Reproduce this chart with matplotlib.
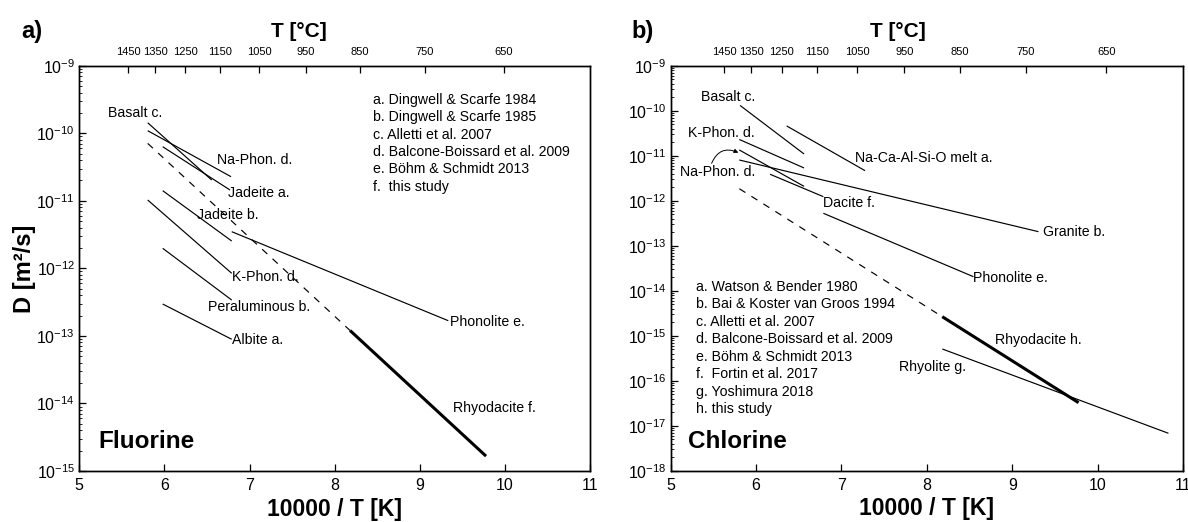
import numpy as np
import matplotlib
matplotlib.use("Agg")
import matplotlib.pyplot as plt
from matplotlib.ticker import FixedLocator, LogLocator, NullFormatter, FuncFormatter

plt.rcParams['font.family'] = ['Liberation Sans', 'DejaVu Sans']
plt.rcParams['mathtext.fontset'] = 'custom'
plt.rcParams['mathtext.rm'] = 'Liberation Sans'
plt.rcParams['mathtext.it'] = 'Liberation Sans:italic'
plt.rcParams['mathtext.bf'] = 'Liberation Sans:bold'

# ---------------- Fluorine: literature Arrhenius segments (x = 10000/T) ----------------
f_names = ["Basalt c.", "Na-Phon. d.", "Jadeite a.", "Jadeite b.", "K-Phon. d.",
           "Phonolite e.", "Peraluminous b.", "Albite a."]
f_x0 = [5.805, 5.805, 5.981, 5.981, 5.805, 6.791, 5.981, 5.981]
f_x1 = [6.556, 6.783, 6.771, 6.791, 6.791, 9.333, 6.791, 6.791]
f_logd0 = [-9.844, -9.962, -10.199, -10.850, -10.988, -11.457, -11.703, -12.528]
f_logd1 = [-10.692, -10.643, -10.840, -11.595, -12.073, -12.775, -12.469, -13.050]

# this study (Rhyodacite f.): extrapolated part, measured part
f_rhyo_x = [5.805, 8.180, 9.776]
f_rhyo_logd = [-10.150, -12.920, -14.780]

f_refs = ["a. Dingwell & Scarfe 1984", "b. Dingwell & Scarfe 1985",
          "c. Alletti et al. 2007", "d. Balcone-Boissard et al. 2009",
          "e. Böhm & Schmidt 2013", "f.  this study"]

# ---------------- Chlorine ----------------
c_names = ["Basalt c.", "K-Phon. d.", "Na-Ca-Al-Si-O melt a.", "Na-Phon. d.",
           "Dacite f.", "Granite b.", "Phonolite e.", "Rhyolite g."]
c_x0 = [5.813, 5.804, 6.359, 5.804, 6.164, 5.804, 6.788, 8.181]
c_x1 = [6.562, 6.562, 7.276, 6.562, 6.788, 9.306, 8.545, 10.828]
c_logd0 = [-9.884, -10.640, -10.340, -10.873, -11.413, -11.096, -12.280, -15.296]
c_logd1 = [-10.962, -11.273, -11.333, -11.682, -11.911, -12.689, -13.689, -17.169]

c_rhyo_x = [5.805, 8.180, 9.776]
c_rhyo_logd = [-11.735, -14.578, -16.489]

c_refs = ["a. Watson & Bender 1980", "b. Bai & Koster van Groos 1994",
          "c. Alletti et al. 2007", "d. Balcone-Boissard et al. 2009",
          "e. Böhm & Schmidt 2013", "f.  Fortin et al. 2017",
          "g. Yoshimura 2018", "h. this study"]

# top axis temperatures in °C
celsius_ticks = [1450, 1350, 1250, 1150, 1050, 950, 850, 750, 650]

# label anchor points (left edge, vertical centre) in data units
f_label_pos = {"Basalt c.": (5.339, -9.700), "Na-Phon. d.": (6.615, -10.396),
               "Jadeite a.": (6.748, -10.889), "Jadeite b.": (6.384, -11.210),
               "K-Phon. d.": (6.791, -12.124), "Phonolite e.": (9.353, -12.790),
               "Peraluminous b.": (6.513, -12.568), "Albite a.": (6.791, -13.061)}
f_rhyo_label = ("Rhyodacite f.", (9.388, -14.072))

c_label_pos = {"Basalt c.": (5.352, -9.689), "K-Phon. d.": (5.204, -10.502),
               "Na-Ca-Al-Si-O melt a.": (7.159, -11.058), "Na-Phon. d.": (5.110, -11.356),
               "Dacite f.": (6.788, -12.058), "Granite b.": (9.364, -12.689),
               "Phonolite e.": (8.545, -13.718), "Rhyolite g.": (7.674, -15.702)}
c_rhyo_label = ("Rhyodacite h.", (8.799, -15.096))

LBL = 10.2
THIN = 0.85
THICK = 2.2


def log_fmt(v, pos):
    e = int(round(np.log10(v)))
    return r"$10^{%d}$" % e


def style_axes(ax, ymin_exp, top_scale, top_offset):
    ax.set_yscale("log")
    ax.set_xlim(5, 11)
    ax.set_ylim(10.0 ** ymin_exp, 1e-9)
    ax.xaxis.set_major_locator(FixedLocator(np.arange(5, 12, 1)))
    ax.yaxis.set_major_locator(LogLocator(base=10, numticks=20))
    ax.yaxis.set_minor_locator(LogLocator(base=10, subs=np.arange(2, 10), numticks=20))
    ax.yaxis.set_major_formatter(FuncFormatter(log_fmt))
    ax.yaxis.set_minor_formatter(NullFormatter())
    ax.tick_params(axis="x", which="major", direction="in", length=5, width=0.9,
                   labelsize=11.5, pad=5)
    ax.tick_params(axis="y", which="major", direction="in", length=5, width=0.9,
                   labelsize=11.5, pad=3, right=False)
    ax.tick_params(axis="y", which="minor", direction="in", length=2.5, width=0.6, right=False)
    for s in ax.spines.values():
        s.set_linewidth(1.0)

    # Celsius scale on top
    top = ax.twiny()
    top.set_xlim(ax.get_xlim())
    tpos = [top_scale * 10000.0 / (t + 273.15) + top_offset for t in celsius_ticks]
    top.xaxis.set_major_locator(FixedLocator(tpos))
    top.set_xticklabels([str(t) for t in celsius_ticks])
    top.tick_params(axis="x", direction="in", length=5, width=0.9, labelsize=8, pad=6)
    top.xaxis.set_minor_locator(FixedLocator([]))
    for s in top.spines.values():
        s.set_linewidth(1.0)
    return top


def draw_segments(ax, x0, x1, d0, d1):
    for a, b, c, d in zip(x0, x1, d0, d1):
        ax.plot([a, b], [10.0 ** c, 10.0 ** d], color="black", lw=THIN, solid_capstyle="butt")


def draw_study(ax, xs, logd):
    d = [10.0 ** v for v in logd]
    ax.plot(xs[:2], d[:2], color="black", lw=THIN, ls=(0, (6, 6)))
    ax.plot(xs[1:], d[1:], color="black", lw=THICK, solid_capstyle="butt")


fig = plt.figure(figsize=(11.88, 5.22), dpi=100)
axL = fig.add_axes([0.0666, 0.0977, 0.4303, 0.7764])
axR = fig.add_axes([0.5645, 0.0983, 0.4314, 0.7759])

# ---------- panel a) Fluorine ----------
style_axes(axL, -15, 0.877, 0.488)
draw_segments(axL, f_x0, f_x1, f_logd0, f_logd1)
draw_study(axL, f_rhyo_x, f_rhyo_logd)
for name in f_names:
    x, ld = f_label_pos[name]
    axL.text(x, 10.0 ** ld, name, fontsize=LBL, ha="left", va="center")
axL.text(f_rhyo_label[1][0], 10.0 ** f_rhyo_label[1][1], f_rhyo_label[0],
         fontsize=LBL, ha="left", va="center")
for i, r in enumerate(f_refs):
    axL.text(0.574, 0.915 - i * 0.0427, r, transform=axL.transAxes,
             fontsize=LBL, ha="left", va="center")
axL.text(0.037, 0.072, "Fluorine", transform=axL.transAxes, fontsize=17.5,
         fontweight="bold", ha="left", va="center")
axL.text(0.5, -0.094, "10000 / T [K]", transform=axL.transAxes, fontsize=16.5,
         fontweight="bold", ha="center", va="center")
axL.text(-0.106, 0.5, "D [m²/s]", transform=axL.transAxes, fontsize=17,
         fontweight="bold", ha="center", va="center", rotation=90)
axL.text(0.429, 1.084, "T [°C]", transform=axL.transAxes, fontsize=15,
         fontweight="bold", ha="center", va="center")
axL.text(-0.093, 1.084, "a)", transform=axL.transAxes, fontsize=17,
         fontweight="bold", ha="center", va="center")

# ---------- panel b) Chlorine ----------
style_axes(axR, -18, 0.890, 0.460)
draw_segments(axR, c_x0, c_x1, c_logd0, c_logd1)
draw_study(axR, c_rhyo_x, c_rhyo_logd)
for name in c_names:
    x, ld = c_label_pos[name]
    axR.text(x, 10.0 ** ld, name, fontsize=LBL, ha="left", va="center")
axR.text(c_rhyo_label[1][0], 10.0 ** c_rhyo_label[1][1], c_rhyo_label[0],
         fontsize=LBL, ha="left", va="center")
axR.annotate("", xy=(5.793, 10.0 ** -10.933), xytext=(5.48, 10.0 ** -11.17),
             arrowprops=dict(arrowstyle="-|>", color="black", lw=0.7,
                             mutation_scale=6, shrinkA=0, shrinkB=0,
                             connectionstyle="arc3,rad=-0.5"))
for i, r in enumerate(c_refs):
    axR.text(0.0496, 0.454 - i * 0.0432, r, transform=axR.transAxes,
             fontsize=LBL, ha="left", va="center")
axR.text(0.034, 0.072, "Chlorine", transform=axR.transAxes, fontsize=17.5,
         fontweight="bold", ha="left", va="center")
axR.text(0.5, -0.094, "10000 / T [K]", transform=axR.transAxes, fontsize=16.5,
         fontweight="bold", ha="center", va="center")
axR.text(0.444, 1.084, "T [°C]", transform=axR.transAxes, fontsize=15,
         fontweight="bold", ha="center", va="center")
axR.text(-0.055, 1.084, "b)", transform=axR.transAxes, fontsize=17,
         fontweight="bold", ha="center", va="center")

fig.savefig("out.png", dpi=100)
